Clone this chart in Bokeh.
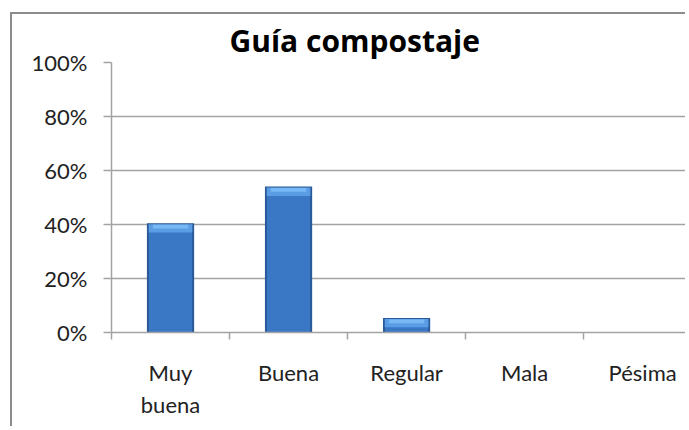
from bokeh.plotting import figure
from bokeh.models import FixedTicker, NumeralTickFormatter, Range1d, ColumnDataSource, Title
from bokeh.transform import dodge
from bokeh.embed import file_html
from bokeh.resources import INLINE

# ---- data ----
categories = ["Muy\nbuena", "Buena", "Regular", "Mala", "Pésima"]
positions = [0, 1, 2, 3, 4]
shares = [0.405, 0.541, 0.054, 0.0, 0.0]
y_ticks = [0.0, 0.2, 0.4, 0.6, 0.8, 1.0]
title_text = "Guía compostaje"

FONT = "Lato"
GRID = "#a3a3a3"

src = ColumnDataSource(dict(x=positions, top=shares))

p = figure(width=675, height=414, output_backend="svg", toolbar_location=None,
           x_range=Range1d(-0.5, 4.38), y_range=Range1d(0, 1.0),
           min_border_left=99, min_border_top=48, min_border_right=0, min_border_bottom=96)
p.background_fill_color = "white"
p.border_fill_color = "white"
p.outline_line_color = None
p.styles = {"margin-left": "10px", "margin-top": "12px",
            "border-left": "2px solid #8c8c8c", "border-top": "2px solid #8c8c8c"}

t = Title(text=title_text, align="left", offset=118, text_font="Open Sans",
          text_font_size="30px", text_font_style="bold", text_color="black", standoff=4)
p.add_layout(t, "above")

# bars: dark rim, body, top bevel, highlight
p.vbar(x="x", top="top", bottom=0, width=0.40, source=src,
       fill_color="#2b5a99", line_color=None)
p.vbar(x="x", top=dodge("top", -0.01, range=p.y_range), bottom=0, width=0.365, source=src,
       fill_color="#3a78c6", line_color=None)
p.vbar(x="x", top=dodge("top", -0.004, range=p.y_range), bottom=dodge("top", -0.035, range=p.y_range),
       width=0.37, source=src, fill_color="#5a9de4", line_color=None)
p.vbar(x="x", top=dodge("top", -0.006, range=p.y_range), bottom=dodge("top", -0.02, range=p.y_range),
       width=0.30, source=src, fill_color="#78b8f4", line_color=None)

# axes
xa = p.xaxis[0]
xa.ticker = FixedTicker(ticks=positions, minor_ticks=[-0.5, 0.5, 1.5, 2.5, 3.5])
xa.major_label_overrides = {pos: lab for pos, lab in zip(positions, categories)}
xa.major_tick_out = 0
xa.major_tick_in = 0
xa.minor_tick_out = 7
xa.minor_tick_in = 0
xa.minor_tick_line_color = GRID
xa.minor_tick_line_width = 1.5
xa.axis_line_color = GRID
xa.axis_line_width = 1.5
xa.major_label_standoff = 19
xa.major_label_text_font = FONT
xa.major_label_text_font_size = "22px"
xa.major_label_text_color = "#222222"
xa.major_label_text_line_height = 1.2

ya = p.yaxis[0]
ya.ticker = FixedTicker(ticks=y_ticks)
ya.formatter = NumeralTickFormatter(format="0%")
ya.major_tick_out = 8
ya.major_tick_in = 0
ya.minor_tick_line_color = None
ya.major_tick_line_color = GRID
ya.major_tick_line_width = 1.5
ya.axis_line_color = GRID
ya.axis_line_width = 1.5
ya.major_label_standoff = 16
ya.major_label_text_font = FONT
ya.major_label_text_font_size = "22px"
ya.major_label_text_color = "#222222"

p.xgrid.grid_line_color = None
p.ygrid.grid_line_color = GRID
p.ygrid.grid_line_width = 1.5

open("out.html", "w").write(file_html(p, INLINE))
